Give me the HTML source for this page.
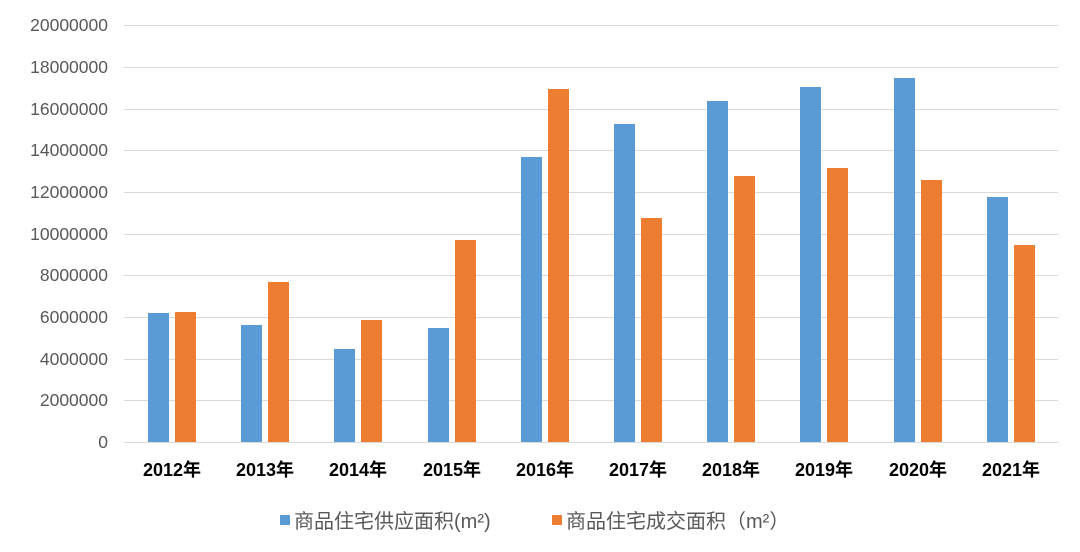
<!DOCTYPE html>
<html><head><meta charset="utf-8"><style>
body{margin:0;background:#fff}
svg{display:block}
text{font-family:"Liberation Sans","Noto Sans CJK SC",sans-serif}
</style></head><body>
<svg width="1080" height="552" viewBox="0 0 1080 552" xmlns="http://www.w3.org/2000/svg">
<g stroke="#d9d9d9" stroke-width="1">
<line x1="124" x2="1058" y1="25.5" y2="25.5"/><line x1="124" x2="1058" y1="67.5" y2="67.5"/>
<line x1="124" x2="1058" y1="109.5" y2="109.5"/><line x1="124" x2="1058" y1="150.5" y2="150.5"/>
<line x1="124" x2="1058" y1="192.5" y2="192.5"/><line x1="124" x2="1058" y1="234.5" y2="234.5"/>
<line x1="124" x2="1058" y1="275.5" y2="275.5"/><line x1="124" x2="1058" y1="317.5" y2="317.5"/>
<line x1="124" x2="1058" y1="359.5" y2="359.5"/><line x1="124" x2="1058" y1="400.5" y2="400.5"/>
<line x1="124" x2="1058" y1="442.5" y2="442.5"/>
</g>
<g font-size="17.5" fill="#595959" text-anchor="end">
<text x="108" y="31">20000000</text><text x="108" y="73">18000000</text>
<text x="108" y="115">16000000</text><text x="108" y="156">14000000</text>
<text x="108" y="198">12000000</text><text x="108" y="240">10000000</text>
<text x="108" y="281">8000000</text><text x="108" y="323">6000000</text>
<text x="108" y="365">4000000</text><text x="108" y="406">2000000</text>
<text x="108" y="448">0</text>
</g>
<g fill="#5b9bd5">
<rect x="148" y="313" width="21" height="129"/>
<rect x="241" y="325" width="21" height="117"/>
<rect x="334" y="349" width="21" height="93"/>
<rect x="428" y="328" width="21" height="114"/>
<rect x="521" y="157" width="21" height="285"/>
<rect x="614" y="124" width="21" height="318"/>
<rect x="707" y="101" width="21" height="341"/>
<rect x="800" y="87" width="21" height="355"/>
<rect x="894" y="78" width="21" height="364"/>
<rect x="987" y="197" width="21" height="245"/>
</g>
<g fill="#ed7d31">
<rect x="175" y="312" width="21" height="130"/>
<rect x="268" y="282" width="21" height="160"/>
<rect x="361" y="320" width="21" height="122"/>
<rect x="455" y="240" width="21" height="202"/>
<rect x="548" y="89" width="21" height="353"/>
<rect x="641" y="218" width="21" height="224"/>
<rect x="734" y="176" width="21" height="266"/>
<rect x="827" y="168" width="21" height="274"/>
<rect x="921" y="180" width="21" height="262"/>
<rect x="1014" y="245" width="21" height="197"/>
</g>
<g font-size="18" font-weight="bold" fill="#000" text-anchor="middle">
<text x="172" y="476">2012年</text><text x="265" y="476">2013年</text>
<text x="358" y="476">2014年</text><text x="452" y="476">2015年</text>
<text x="545" y="476">2016年</text><text x="638" y="476">2017年</text>
<text x="731" y="476">2018年</text><text x="824" y="476">2019年</text>
<text x="918" y="476">2020年</text><text x="1011" y="476">2021年</text>
</g>
<rect x="280" y="515" width="10" height="10" fill="#5b9bd5"/>
<text x="294" y="528" font-size="20" fill="#595959">商品住宅供应面积(m²)</text>
<rect x="552" y="515" width="10" height="10" fill="#ed7d31"/>
<text x="566" y="528" font-size="20" fill="#595959">商品住宅成交面积（m²）</text>
</svg>
</body></html>
